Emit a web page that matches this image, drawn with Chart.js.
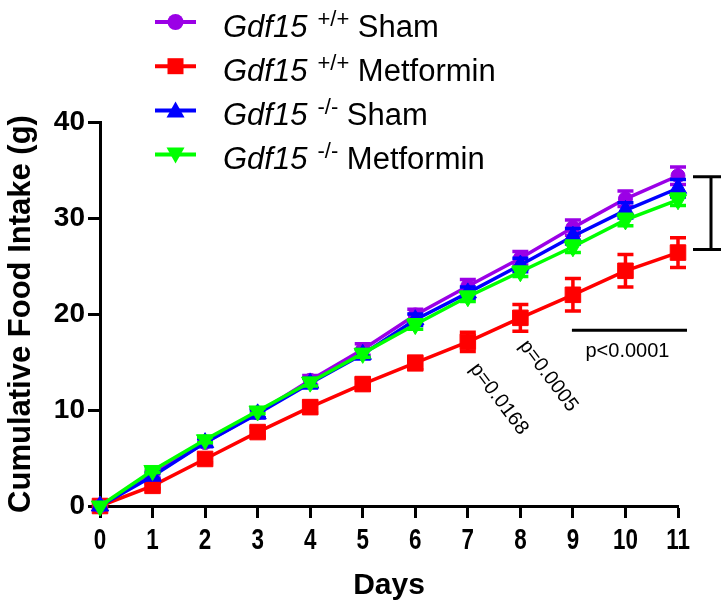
<!DOCTYPE html>
<html>
<head>
<meta charset="utf-8">
<style>
  html, body { margin: 0; padding: 0; background: #ffffff; }
  #wrap { width: 721px; height: 604px; }
</style>
<script src="https://cdn.jsdelivr.net/npm/chart.js@4.4.1/dist/chart.umd.min.js"></script>
</head>
<body>
<div id="wrap"><canvas id="intake" width="721" height="604"></canvas></div>
<script>
// Days of the study (x categories)
const days = ['0', '1', '2', '3', '4', '5', '6', '7', '8', '9', '10', '11'];
const yTicks = [0, 10, 20, 30, 40];

// Cumulative food intake (g), mean and SEM per group
const wtSham      = [0, 3.3, 6.6, 9.7, 13.1, 16.3, 19.9, 22.9, 25.8, 29.0, 32.0, 34.4];
const wtShamErr   = [0, 0.3, 0.4, 0.5, 0.5, 0.6, 0.6, 0.7, 0.7, 0.8, 0.8, 0.9];
const wtMet       = [0, 2.1, 4.9, 7.7, 10.3, 12.7, 14.9, 17.1, 19.6, 22.0, 24.5, 26.4];
const wtMetErr    = [0, 0.3, 0.4, 0.5, 0.6, 0.6, 0.7, 1.0, 1.4, 1.7, 1.7, 1.55];
const koSham      = [0, 3.1, 6.6, 9.6, 12.8, 15.8, 19.4, 22.2, 25.1, 28.1, 30.8, 33.1];
const koShamErr   = [0, 0.3, 0.4, 0.4, 0.5, 0.5, 0.6, 0.6, 0.7, 0.8, 0.8, 0.9];
const koMet       = [0, 3.7, 6.9, 9.9, 12.9, 15.9, 18.9, 21.8, 24.4, 27.0, 29.8, 31.9];
const koMetErr    = [0, 0.2, 0.3, 0.3, 0.4, 0.4, 0.5, 0.5, 0.5, 0.6, 0.6, 0.6];

const FONT = "Arial, 'Liberation Sans', Helvetica, sans-serif";
const PURPLE = '#9b00e6', RED = '#ff0000', BLUE = '#0000ff', GREEN = '#00ff00';

// Legend entries: colour, marker, genotype superscript, treatment
const legendRows = [
  { color: PURPLE, marker: 'circle',   sup: '+/+', label: 'Sham' },
  { color: RED,    marker: 'rect',     sup: '+/+', label: 'Metformin' },
  { color: BLUE,   marker: 'triangle', sup: '-/-', label: 'Sham' },
  { color: GREEN,  marker: 'down',     sup: '-/-', label: 'Metformin' }
];

// SEM bars drawn right after each dataset so layering follows the lines
const errorBars = {
  id: 'errorBars',
  afterDatasetDraw(chart, args) {
    const ds = chart.data.datasets[args.index];
    if (!ds.errors) return;
    const y = chart.scales.y, ctx = chart.ctx;
    ctx.save();
    ctx.strokeStyle = ds.borderColor;
    ctx.lineWidth = 3.5;
    args.meta.data.forEach((pt, i) => {
      const e = ds.errors[i];
      if (!e) return;
      const top = y.getPixelForValue(ds.data[i] + e);
      const bot = y.getPixelForValue(ds.data[i] - e);
      ctx.beginPath();
      ctx.moveTo(pt.x, top); ctx.lineTo(pt.x, bot);
      ctx.moveTo(pt.x - 8, top); ctx.lineTo(pt.x + 8, top);
      ctx.moveTo(pt.x - 8, bot); ctx.lineTo(pt.x + 8, bot);
      ctx.stroke();
    });
    ctx.restore();
  }
};

// Day numbers under the x axis, set in a condensed bold face
const dayLabels = {
  id: 'dayLabels',
  afterDraw(chart) {
    const ctx = chart.ctx, xs = chart.scales.x;
    const y = chart.chartArea.bottom + 35;
    ctx.save();
    ctx.fillStyle = '#000';
    ctx.font = `bold 28px ${FONT}`;
    ctx.textAlign = 'center';
    ctx.textBaseline = 'middle';
    days.forEach((d, i) => {
      ctx.save();
      ctx.translate(xs.getPixelForValue(i), y);
      ctx.scale(0.8, 1.03);
      ctx.fillText(d, 0, 0);
      ctx.restore();
    });
    ctx.restore();
  }
};

function drawMarker(ctx, kind, x, y, color) {
  ctx.fillStyle = color;
  ctx.beginPath();
  if (kind === 'circle') {
    ctx.arc(x, y, 8, 0, Math.PI * 2);
  } else if (kind === 'rect') {
    ctx.rect(x - 8, y - 8, 16, 16);
  } else if (kind === 'triangle') {
    ctx.moveTo(x, y - 9); ctx.lineTo(x + 9, y + 7); ctx.lineTo(x - 9, y + 7);
  } else {
    ctx.moveTo(x, y + 9); ctx.lineTo(x + 9, y - 7); ctx.lineTo(x - 9, y - 7);
  }
  ctx.closePath();
  ctx.fill();
}

// Legend with italic gene name and superscript genotype
const groupLegend = {
  id: 'groupLegend',
  afterDraw(chart) {
    const ctx = chart.ctx;
    ctx.save();
    legendRows.forEach((row, i) => {
      const cy = 22 + i * 44.2;
      ctx.strokeStyle = row.color;
      ctx.lineWidth = 4;
      ctx.beginPath(); ctx.moveTo(155, cy); ctx.lineTo(196, cy); ctx.stroke();
      drawMarker(ctx, row.marker, 175.5, cy, row.color);

      const base = cy + 14.8;
      ctx.fillStyle = '#000';
      ctx.textBaseline = 'alphabetic';
      ctx.textAlign = 'left';
      let x = 223;
      ctx.font = `italic 31px ${FONT}`;
      ctx.fillText('Gdf15', x, base);
      x += ctx.measureText('Gdf15').width + 10;
      ctx.font = `22px ${FONT}`;
      ctx.fillText(row.sup, x, base - 11);
      x += ctx.measureText(row.sup).width;
      ctx.font = `31px ${FONT}`;
      ctx.fillText(' ' + row.label, x, base);
    });
    ctx.restore();
  }
};

// Significance annotations
const statMarks = {
  id: 'statMarks',
  afterDraw(chart) {
    const ctx = chart.ctx, xs = chart.scales.x, ys = chart.scales.y;
    ctx.save();
    ctx.strokeStyle = '#000';
    ctx.fillStyle = '#000';
    ctx.lineWidth = 3;

    // bracket between the groups at day 11
    const bx = xs.getPixelForValue(11) + 33;
    const bTop = ys.getPixelForValue(wtSham[11]) + 1;
    const bBot = ys.getPixelForValue(wtMet[11]) - 3;
    ctx.beginPath();
    ctx.moveTo(bx, bTop); ctx.lineTo(bx, bBot);
    ctx.moveTo(bx - 18, bTop); ctx.lineTo(chart.width, bTop);
    ctx.moveTo(bx - 18, bBot); ctx.lineTo(chart.width, bBot);
    ctx.stroke();

    // days 9-11 bar with p value
    const lineY = ys.getPixelForValue(18.3);
    const x9 = xs.getPixelForValue(9), x11 = xs.getPixelForValue(11);
    ctx.beginPath();
    ctx.moveTo(x9 - 1, lineY); ctx.lineTo(x11 + 9, lineY);
    ctx.stroke();
    ctx.font = `20px ${FONT}`;
    ctx.textAlign = 'center';
    ctx.textBaseline = 'middle';
    ctx.fillText('p<0.0001', (x9 + x11) / 2 + 2, lineY + 21);

    // rotated p values under days 7 and 8
    const rotated = [
      { text: 'p=0.0168', x: xs.getPixelForValue(7) + 31, y: ys.getPixelForValue(11.15) },
      { text: 'p=0.0005', x: xs.getPixelForValue(8) + 28, y: ys.getPixelForValue(13.55) }
    ];
    rotated.forEach(r => {
      ctx.save();
      ctx.translate(r.x, r.y);
      ctx.rotate(53 * Math.PI / 180);
      ctx.fillText(r.text, 0, 0);
      ctx.restore();
    });
    ctx.restore();
  }
};

function series(label, data, errors, color, style, radius, order, rotation) {
  return {
    label, data, errors, order,
    borderColor: color, backgroundColor: color,
    pointBackgroundColor: color, pointBorderColor: color,
    borderWidth: 3.5, pointBorderWidth: 1,
    pointStyle: style, pointRadius: radius, pointHoverRadius: radius,
    pointRotation: rotation || 0,
    tension: 0, fill: false, clip: false
  };
}

new Chart(document.getElementById('intake'), {
  type: 'line',
  data: {
    labels: days,
    datasets: [
      series('Gdf15 +/+ Sham', wtSham, wtShamErr, PURPLE, 'circle', 7, 2),
      series('Gdf15 +/+ Metformin', wtMet, wtMetErr, RED, 'rect', 11, 3),
      series('Gdf15 -/- Sham', koSham, koShamErr, BLUE, 'triangle', 10, 1),
      series('Gdf15 -/- Metformin', koMet, koMetErr, GREEN, 'triangle', 10, 0, 180)
    ]
  },
  options: {
    responsive: false,
    animation: false,
    devicePixelRatio: 1,
    layout: { padding: { left: 0, right: 43, top: 122, bottom: 0 } },
    plugins: { legend: { display: false }, tooltip: { enabled: false } },
    scales: {
      x: {
        type: 'category',
        offset: false,
        afterFit(scale) { scale.height = 98; },
        border: { display: true, color: '#000', width: 3 },
        grid: { drawOnChartArea: false, drawTicks: true, tickLength: 12, tickWidth: 3, tickColor: '#000', offset: false },
        ticks: { display: false, autoSkip: false, maxRotation: 0 },
        title: { display: true, text: 'Days', color: '#000', font: { family: FONT, size: 30, weight: 'bold' }, padding: { top: 0, bottom: 0 } }
      },
      y: {
        type: 'linear',
        min: 0, max: 40,
        afterFit(scale) { scale.width = 100; },
        afterBuildTicks(scale) { scale.ticks = yTicks.map(v => ({ value: v })); },
        border: { display: true, color: '#000', width: 3 },
        grid: { drawOnChartArea: false, drawTicks: true, tickLength: 12, tickWidth: 3, tickColor: '#000' },
        ticks: { color: '#000', font: { family: FONT, size: 28, weight: 'bold' }, padding: 3 },
        title: { display: true, text: 'Cumulative Food Intake (g)', color: '#000', font: { family: FONT, size: 31, weight: 'bold' }, padding: { top: 3, bottom: 0 } }
      }
    }
  },
  plugins: [errorBars, dayLabels, groupLegend, statMarks]
});
</script>
</body>
</html>
